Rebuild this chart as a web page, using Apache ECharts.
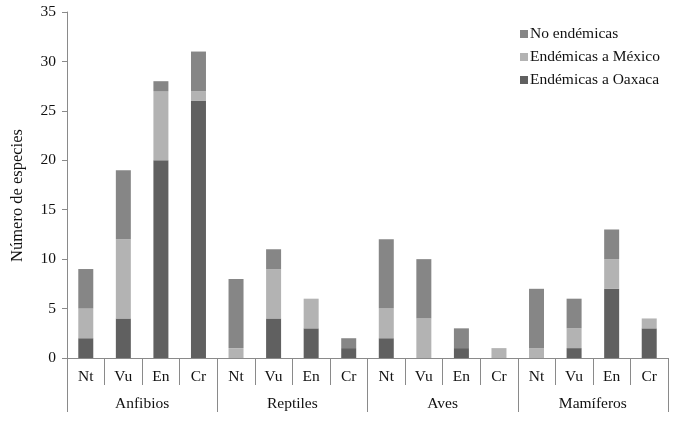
<!DOCTYPE html>
<html>
<head>
<meta charset="utf-8">
<script src="https://cdn.jsdelivr.net/npm/echarts@6/dist/echarts.min.js"></script>
<style>
  html, body { margin: 0; padding: 0; background: #fff; }
  #main { width: 685px; height: 427px; }
</style>
</head>
<body>
<div id="main"></div>
<script>
// categorias de amenaza y grupos
var categorias = ['Nt', 'Vu', 'En', 'Cr', 'Nt', 'Vu', 'En', 'Cr', 'Nt', 'Vu', 'En', 'Cr', 'Nt', 'Vu', 'En', 'Cr'];
var grupos = ['Anfibios', 'Reptiles', 'Aves', 'Mamíferos'];

// valores por serie (apiladas de abajo hacia arriba)
var endemicasOaxaca = [2, 4, 20, 26, 0, 4, 3, 1, 2, 0, 1, 0, 0, 1, 7, 3];
var endemicasMexico = [3, 8, 7, 1, 1, 5, 3, 0, 3, 4, 0, 1, 1, 2, 3, 1];
var noEndemicas     = [4, 7, 1, 4, 7, 2, 0, 1, 7, 6, 2, 0, 6, 3, 3, 0];

var ejeY = { min: 0, max: 35, interval: 5 };

var fuente = 'Liberation Serif';
var colorEje = '#8a8a8a';
var tam = 15.5;

var myChart = echarts.init(document.getElementById('main'));

function serie(nombre, datos, color) {
    return {
        name: nombre,
        type: 'bar',
        stack: 'total',
        barWidth: 15,
        data: datos,
        itemStyle: { color: color },
        xAxisIndex: 0
    };
}

var option = {
    animation: false,
    textStyle: { fontFamily: fuente },
    grid: { left: 67, right: 17, top: 12, bottom: 69, containLabel: false, outerBoundsMode: 'none' },
    legend: {
        orient: 'vertical',
        right: 20,
        top: 21,
        itemWidth: 8,
        itemHeight: 8,
        itemGap: 7,
        icon: 'rect',
        textStyle: { fontFamily: fuente, fontSize: tam, color: '#111', padding: [0, 0, 0, -3] },
        data: ['No endémicas', 'Endémicas a México', 'Endémicas a Oaxaca']
    },
    xAxis: [{
        type: 'category',
        data: categorias,
        position: 'bottom',
        axisLine: { lineStyle: { color: colorEje } },
        axisTick: { show: true, interval: 0, length: 27, lineStyle: { color: colorEje } },
        axisLabel: { interval: 0, fontFamily: fuente, fontSize: tam, color: '#111', margin: 11 }
    }, {
        type: 'category',
        data: grupos,
        position: 'bottom',
        offset: 27,
        axisLine: { show: false },
        axisTick: { show: true, interval: 0, length: 27, lineStyle: { color: colorEje } },
        axisLabel: { interval: 0, fontFamily: fuente, fontSize: tam, color: '#111', margin: 11 }
    }],
    yAxis: {
        type: 'value',
        min: ejeY.min,
        max: ejeY.max,
        interval: ejeY.interval,
        name: 'Número de especies',
        nameLocation: 'middle',
        nameRotate: 90,
        nameGap: 41,
        nameTextStyle: { fontFamily: fuente, fontSize: 16.5, color: '#111', padding: [0, 21, 0, 0] },
        axisLine: { show: true, lineStyle: { color: colorEje } },
        axisTick: { show: true, length: 5, lineStyle: { color: colorEje } },
        axisLabel: { fontFamily: fuente, fontSize: tam, color: '#111', margin: 11 },
        splitLine: { show: false }
    },
    series: [
        serie('Endémicas a Oaxaca', endemicasOaxaca, '#606060'),
        serie('Endémicas a México', endemicasMexico, '#b3b3b3'),
        serie('No endémicas', noEndemicas, '#868686')
    ]
};

myChart.setOption(option);
</script>
</body>
</html>
